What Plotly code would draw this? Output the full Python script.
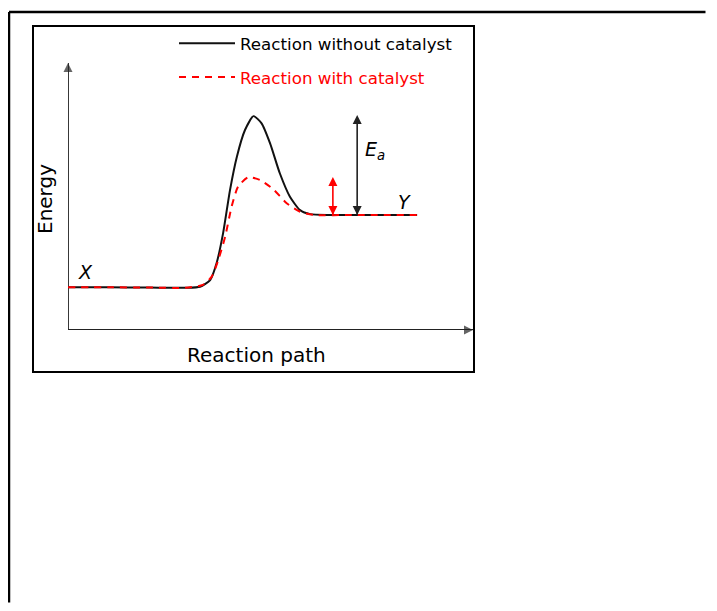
import plotly.graph_objects as go

# ---- data (reaction path vs energy, arbitrary units) ----
path_uncat = [0.0, 1.0, 2.0, 2.9, 3.26, 3.51, 3.67, 3.83, 4.0, 4.17, 4.37, 4.58,
              4.78, 4.99, 5.23, 5.48, 5.73, 5.98, 6.47, 7.5, 8.62]
energy_uncat = [1.6, 1.6, 1.59, 1.58, 1.62, 1.87, 2.51, 3.63, 5.24, 6.49, 7.49, 8.01,
                7.74, 6.99, 5.87, 4.99, 4.49, 4.34, 4.31, 4.31, 4.31]

path_cat = [0.0, 1.0, 2.0, 2.9, 3.33, 3.55, 3.71, 3.88, 4.04, 4.2, 4.45, 4.74,
            5.07, 5.4, 5.73, 6.06, 7.0, 8.62]
energy_cat = [1.6, 1.6, 1.59, 1.58, 1.69, 2.0, 2.62, 3.49, 4.62, 5.37, 5.72, 5.62,
              5.27, 4.75, 4.43, 4.31, 4.31, 4.31]

series_names = ["Reaction without catalyst", "Reaction with catalyst"]
axis_x_label = "Reaction path"
axis_y_label = "Energy"

# activation-energy arrows: (x, bottom, top)
ea_uncat = (7.14, 4.31, 8.05)
ea_cat = (6.54, 4.31, 5.73)

# axis extents (data units)
axis_x_end = 10.0
axis_y_end = 10.0

# point labels: (text, x, y)
point_labels = [("X", 0.44, 2.17), ("Y", 8.32, 4.79), ("E<sub>a</sub>", 7.58, 6.74)]

# ---- page geometry helpers (figure sits at page offset 8,8) ----
FW, FH, OFF = 701, 595, 8


def px(x):
    return (x - OFF) / FW


def py(y):
    return 1 - (y - OFF) / FH


fig = go.Figure()

# axes drawn as arrows
fig.add_trace(go.Scatter(x=[0, axis_x_end], y=[0, 0], mode="lines+markers",
                         line=dict(color="#222222", width=1.8),
                         marker=dict(symbol=["circle", "arrow-right"], size=[0, 9],
                                     color="#222222", line=dict(width=0)),
                         showlegend=False, hoverinfo="skip", cliponaxis=False))
fig.add_trace(go.Scatter(x=[0, 0], y=[0, axis_y_end], mode="lines+markers",
                         line=dict(color="#222222", width=1.8),
                         marker=dict(symbol=["circle", "arrow-up"], size=[0, 9],
                                     color="#222222", line=dict(width=0)),
                         showlegend=False, hoverinfo="skip", cliponaxis=False))

fig.add_trace(go.Scatter(x=path_uncat, y=energy_uncat, mode="lines", name=series_names[0],
                         line=dict(color="#111111", width=2, shape="spline", smoothing=0.6),
                         legendgroup="a", cliponaxis=False))
fig.add_trace(go.Scatter(x=path_cat, y=energy_cat, mode="lines",
                         name="<span style='color:#ff0000'>" + series_names[1] + "</span>",
                         line=dict(color="#ff0000", width=2, dash="7px,6px", shape="spline",
                                   smoothing=0.6),
                         legendgroup="b", cliponaxis=False))

# activation energy double arrows
for (ax_, y0, y1), col in [(ea_uncat, "#222222"), (ea_cat, "#ff0000")]:
    fig.add_trace(go.Scatter(x=[ax_, ax_], y=[y0, y1], mode="lines+markers",
                             line=dict(color=col, width=1.6),
                             marker=dict(symbol=["arrow-down", "arrow-up"], size=9, color=col,
                                         line=dict(width=0)),
                             showlegend=False, hoverinfo="skip", cliponaxis=False))

annotations = []
for t, x, y in point_labels:
    annotations.append(dict(x=x, y=y, xref="x", yref="y", text="<i>" + t + "</i>",
                            showarrow=False, font=dict(size=19, color="black",
                                                       family="DejaVu Sans")))
annotations.append(dict(x=px(257), y=py(355), xref="paper", yref="paper", text=axis_x_label,
                        xanchor="center", yanchor="middle",
                        showarrow=False, font=dict(size=20, color="black")))
annotations.append(dict(x=px(45), y=py(199), xref="paper", yref="paper", text=axis_y_label,
                        xanchor="center", yanchor="middle",
                        textangle=-90, showarrow=False, font=dict(size=20, color="black")))

shapes = [
    dict(type="line", xref="paper", yref="paper", x0=px(9), y0=0.001, x1=px(9), y1=py(12),
         line=dict(color="black", width=2.5)),
    dict(type="line", xref="paper", yref="paper", x0=px(9), y0=py(12), x1=0.995, y1=py(12),
         line=dict(color="black", width=2.5)),
    dict(type="rect", xref="paper", yref="paper", x0=px(33), y0=py(372), x1=px(474), y1=py(26),
         line=dict(color="black", width=2)),
]

fig.update_layout(
    width=FW, height=FH, margin=dict(l=0, r=0, t=0, b=0),
    paper_bgcolor="white", plot_bgcolor="white",
    font=dict(family="DejaVu Sans", color="black"),
    xaxis=dict(range=[0, 10], domain=[px(68), px(473)], showgrid=False, zeroline=False,
               showticklabels=False, showline=False, ticks=""),
    yaxis=dict(range=[0, 10], domain=[py(330), py(63)], showgrid=False, zeroline=False,
               showticklabels=False, showline=False, ticks=""),
    legend=dict(x=px(174), y=py(26), xanchor="left", yanchor="top", bgcolor="rgba(0,0,0,0)",
                font=dict(size=16.7, color="black"), tracegroupgap=9, itemwidth=56),
    annotations=annotations,
    shapes=shapes,
    showlegend=True,
)

fig.write_html("out.html")
